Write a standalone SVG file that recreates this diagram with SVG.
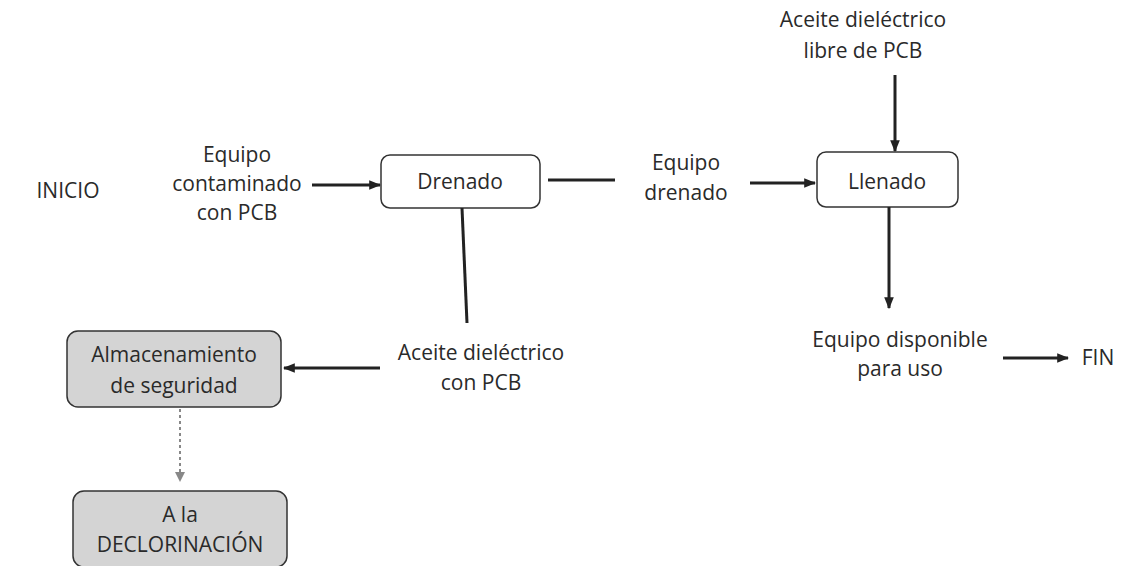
<svg xmlns="http://www.w3.org/2000/svg" width="1130" height="566" viewBox="0 0 1130 566">
<defs>
<style>
text{font-family:"Open Sans","Liberation Sans",sans-serif;font-size:21px;fill:#2a2a2a;text-anchor:middle}
.box{fill:#fff;stroke:#333;stroke-width:1.5}
.gbox{fill:#d4d4d4;stroke:#333;stroke-width:1.5}
.ln{stroke:#222;stroke-width:3;fill:none}
.dot{stroke:#888;stroke-width:2;stroke-dasharray:3 3;fill:none}
</style>
<marker id="ah" viewBox="0 0 10 10" refX="9" refY="5" markerWidth="4" markerHeight="4" orient="auto" markerUnits="strokeWidth"><path d="M0,1 L10,5 L0,9 z" fill="#222"/></marker>
<marker id="ahg" viewBox="0 0 10 10" refX="9" refY="5" markerWidth="5" markerHeight="5" orient="auto" markerUnits="strokeWidth"><path d="M0,0 L10,5 L0,10 z" fill="#888"/></marker>
</defs>
<rect width="1130" height="566" fill="#fff"/>
<g id="inicio"><text x="68" y="198">INICIO</text></g>
<g id="equipo-contaminado"><text x="237" y="162">Equipo</text><text x="237" y="191">contaminado</text><text x="237" y="220">con PCB</text></g>
<g id="drenado"><rect class="box" x="381" y="155" width="159" height="53" rx="9"/><text x="460" y="189">Drenado</text></g>
<g id="equipo-drenado"><text x="686" y="170">Equipo</text><text x="686" y="200">drenado</text></g>
<g id="aceite-libre"><text x="863" y="27">Aceite dieléctrico</text><text x="863" y="58">libre de PCB</text></g>
<g id="llenado"><rect class="box" x="817" y="152" width="141" height="55" rx="9"/><text x="887" y="189">Llenado</text></g>
<g id="equipo-disponible"><text x="900" y="347">Equipo disponible</text><text x="900" y="376">para uso</text></g>
<g id="fin"><text x="1098" y="365">FIN</text></g>
<g id="aceite-pcb"><text x="481" y="360">Aceite dieléctrico</text><text x="481" y="390">con PCB</text></g>
<g id="almacenamiento"><rect class="gbox" x="67" y="331" width="214" height="76" rx="11"/><text x="174" y="362">Almacenamiento</text><text x="174" y="393">de seguridad</text></g>
<g id="declorinacion"><rect class="gbox" x="73" y="491" width="214" height="76" rx="11"/><text x="180" y="522">A la</text><text x="180" y="552">DECLORINACIÓN</text></g>
<g id="connectors">
<line class="ln" x1="312" y1="185" x2="380" y2="185" marker-end="url(#ah)"/>
<line class="ln" x1="548" y1="180" x2="615" y2="180"/>
<line class="ln" x1="750" y1="183" x2="815" y2="183" marker-end="url(#ah)"/>
<line class="ln" x1="895" y1="75" x2="895" y2="151" marker-end="url(#ah)"/>
<line class="ln" x1="889" y1="207" x2="889" y2="308" marker-end="url(#ah)"/>
<line class="ln" x1="1003" y1="358" x2="1068" y2="358" marker-end="url(#ah)"/>
<line class="ln" x1="462" y1="208" x2="467" y2="323"/>
<line class="ln" x1="380" y1="368" x2="284" y2="368" marker-end="url(#ah)"/>
<line class="dot" x1="180" y1="409" x2="180" y2="481" marker-end="url(#ahg)"/>
</g>
</svg>
